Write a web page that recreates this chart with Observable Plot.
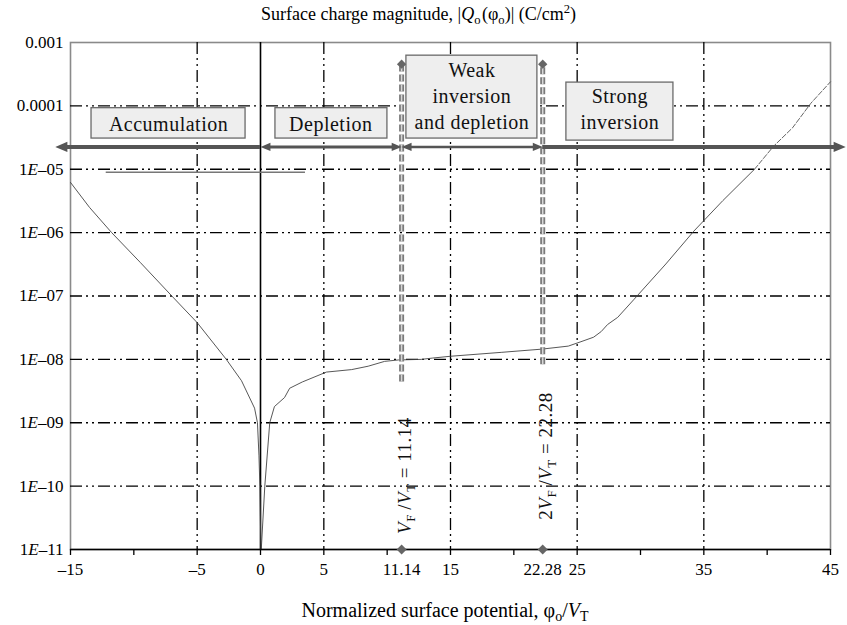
<!DOCTYPE html>
<html>
<head>
<meta charset="utf-8">
<script src="https://cdn.jsdelivr.net/npm/d3@7"></script>
<script src="https://cdn.jsdelivr.net/npm/@observablehq/plot@0.6"></script>
<style>
  body { margin: 0; background: #fff; font-family: 'Liberation Serif', 'Times New Roman', serif; color: #000; }
  #title { width: 847px; height: 30px; line-height: 28px; font-size: 18px; text-align: center; padding-right: 10px; box-sizing: border-box; }
  #xlabel { width: 847px; height: 30px; line-height: 30px; font-size: 20px; text-align: center; padding-left: 43px; box-sizing: border-box; }
  sub, sup { font-size: 70%; line-height: 0; vertical-align: 0; position: relative; }
  sub { top: 0.3em; }
  sup { top: -0.55em; }
  svg text { font-family: 'Liberation Serif', 'Times New Roman', serif; }
  svg g[aria-label="text"] text { letter-spacing: 0.5px; }
</style>
</head>
<body>
<div id="title">Surface charge magnitude, |<i>Q</i><sub>o</sub>&#8202;(φ<sub>o</sub>)| (C/cm<sup>2</sup>)</div>
<div id="chart"></div>
<div id="xlabel">Normalized surface potential, φ<sub>o</sub>/<i>V</i><sub>T</sub></div>
<script>
// ---- data ----
const phiAccumulation = [-15, -13.5, -11.75, -9.5, -7, -5, -2.7, -1.5, -0.47, -0.24, -0.12, -0.05, 0.03];
const qAccumulation   = [6.2e-6, 2.5e-6, 1.0e-6, 3.4e-7, 1.0e-7, 3.8e-8, 1.0e-8, 4.6e-9, 1.7e-9, 1.0e-9, 3.0e-10, 1.0e-10, 1.0e-11];

const phiInversion = [0.06, 0.34, 0.73, 1.1, 1.9, 2.3, 3.3, 5.2, 7.2, 8.5, 9.8, 10.9, 12.7, 13.6, 15, 19, 22.2, 24.3, 25.3, 26.3, 26.9, 27.4, 28.2, 29.5, 32, 34.2, 36.5, 39];
const qInversion   = [1e-11, 1e-10, 1e-9, 1.8e-9, 2.5e-9, 3.5e-9, 4.4e-9, 6.3e-9, 6.9e-9, 7.8e-9, 9.3e-9, 9.8e-9, 1.0e-8, 1.05e-8, 1.12e-8, 1.29e-8, 1.45e-8, 1.62e-8, 1.9e-8, 2.24e-8, 2.75e-8, 3.55e-8, 4.6e-8, 8.9e-8, 3.2e-7, 1.05e-6, 3.2e-6, 1.0e-5];

const phiStrongTail = [39, 40.5, 42, 43.45, 45];
const qStrongTail   = [1.0e-5, 2.3e-5, 4.5e-5, 1.1e-4, 2.4e-4];

const yTicks = [1e-11, 1e-10, 1e-9, 1e-8, 1e-7, 1e-6, 1e-5, 1e-4, 1e-3];
const yGrid = [1e-10, 1e-9, 1e-8, 1e-7, 1e-6, 1e-5, 1e-4];
const xTickLabels = [-15, -5, 0, 5, 11.14, 15, 22.28, 25, 35, 45];
const xMinorTicks = [-15, -10, -5, 0, 5, 10, 15, 20, 25, 30, 35, 40, 45];
const xGrid = [-5, 5, 15, 25, 35];

const vfLines = [11.14, 22.28];
const vfLabels = ["VF/VT = 11.14", "2VF/VT = 22.28"];

const regionNames = ["Accumulation", "Depletion", "Weak\ninversion\nand depletion", "Strong\ninversion"];
const arrowLeft  = [-16.2, 0, 11.14, 22.28];
const arrowRight = [0, 11.14, 22.28, 46.2];
const headLeft   = [true, true, true, false];
const headRight  = [false, true, true, true];

// ---- helpers ----
const serif = "'Liberation Serif', 'Times New Roman', serif";
const fmtX = d => d < 0 ? "–" + (-d) : String(d);
const fmtY = d => d === 1e-3 ? "0.001" : d === 1e-4 ? "0.0001" : "1E–" + String(Math.round(-Math.log10(d))).padStart(2, "0");

// arrowhead with tip at origin, pointing right
const arrowHead = {
  draw(ctx, size) {
    const s = Math.sqrt(size);
    ctx.moveTo(0, 0);
    ctx.lineTo(-s, -s * 0.42);
    ctx.lineTo(-s, s * 0.42);
    ctx.closePath();
  }
};

const arrowY = 2.25e-5;
const arrowColor = "#555";
const arrowWidths = [4, 3, 2.5, 4];

const arrowMarks = [];
regionNames.forEach((name, i) => {
  arrowMarks.push(Plot.ruleY([arrowY], {
    x1: arrowLeft[i], x2: arrowRight[i], stroke: arrowColor, strokeWidth: arrowWidths[i],
    insetLeft: headLeft[i] ? 8 : 0, insetRight: headRight[i] ? 8 : 0
  }));
  const r = arrowWidths[i] >= 4 ? 6.8 : 5.6;
  if (headLeft[i]) arrowMarks.push(Plot.dot([arrowLeft[i]], {x: d => d, y: () => arrowY, symbol: arrowHead, r, rotate: 180, fill: arrowColor, stroke: "none"}));
  if (headRight[i]) arrowMarks.push(Plot.dot([arrowRight[i]], {x: d => d, y: () => arrowY, symbol: arrowHead, r, rotate: 0, fill: arrowColor, stroke: "none"}));
});

// label boxes (data coordinates)
const boxes = [
  {x1: -13.34, x2: -1.18, y1: 3.05e-5, y2: 9.2e-5, cx: -7.26, cy: 5.45e-5},
  {x1: 1.18, x2: 10.02, y1: 3.05e-5, y2: 9.2e-5, cx: 5.55, cy: 5.45e-5},
  {x1: 11.52, x2: 21.86, y1: 3.05e-5, y2: 6.2e-4, cx: 16.69, cy: 1.5e-4},
  {x1: 24.15, x2: 32.6, y1: 2.83e-5, y2: 2.33e-4, cx: 28.37, cy: 9.2e-5}
].map((b, i) => ({...b, name: regionNames[i]}));

const gridDash = "12,4,2,4,2,4";

const plot = Plot.plot({
  width: 847,
  height: 565,
  marginLeft: 70,
  marginRight: 17,
  marginTop: 12,
  marginBottom: 46,
  style: {fontFamily: serif, fontSize: "17px", color: "#000", background: "#fff", overflow: "visible"},
  x: {domain: [-15, 45]},
  y: {type: "log", domain: [1e-11, 1e-3]},
  marks: [
    Plot.frame({stroke: "#8a8a8a", strokeWidth: 1.6}),
    Plot.ruleY(yGrid, {stroke: "#000", strokeWidth: 1.3, strokeDasharray: gridDash}),
    Plot.ruleX(xGrid, {stroke: "#000", strokeWidth: 1.3, strokeDasharray: gridDash}),
    Plot.ruleX([0], {stroke: "#000", strokeWidth: 1.6}),
    // stray horizontal segment in the original figure
    Plot.ruleY([8.97e-6], {x1: -12.18, x2: 3.55, stroke: "#777", strokeWidth: 1.3}),
    // curves
    Plot.line(qAccumulation, {x: phiAccumulation, y: qAccumulation, stroke: "#444", strokeWidth: 0.9}),
    Plot.line(qInversion, {x: phiInversion, y: qInversion, stroke: "#444", strokeWidth: 0.9}),
    Plot.line(qStrongTail, {x: phiStrongTail, y: qStrongTail, stroke: "#555", strokeWidth: 0.9, strokeDasharray: "5,2"}),
    // V_F and 2V_F dashed markers
    Plot.ruleX(vfLines, {y1: [4.4e-9, 8.2e-9], y2: 4.55e-4, stroke: "#7a7a7a", strokeWidth: 5, strokeDasharray: "7,3"}),
    Plot.ruleX(vfLines, {y1: [4.4e-9, 8.2e-9], y2: 4.55e-4, stroke: "#d8d8d8", strokeWidth: 1.5, strokeDasharray: "7,3"}),
    ...arrowMarks,
    // region boxes
    Plot.rect(boxes, {x1: "x1", x2: "x2", y1: "y1", y2: "y2", fill: "#eeeeee", stroke: "#6a6a6a", strokeWidth: 1.3}),
    Plot.text(boxes, {x: "cx", y: "cy", text: "name", fontSize: 20, fontFamily: serif, lineHeight: 1.3, fill: "#111"}),
    // axes
    Plot.ruleY([1e-11], {stroke: "#000", strokeWidth: 1.6}),
    Plot.axisX({ticks: xMinorTicks, tickSize: 6, tickFormat: () => "", label: null, strokeWidth: 1.3}),
    Plot.axisX({ticks: xTickLabels, tickSize: 0, tickPadding: 13, tickFormat: fmtX, label: null, fontSize: 17, fontFamily: serif}),
    Plot.axisY({ticks: yTicks, tickSize: 0, tickPadding: 7, tickFormat: fmtY, label: null, fontSize: 17, fontFamily: serif}),
    // diamonds
    Plot.dot(vfLines, {x: d => d, y: () => 1e-11, symbol: "diamond2", r: 4.5, fill: "#666", stroke: "none"}),
    Plot.dot(vfLines, {x: d => d, y: () => 4.55e-4, symbol: "diamond2", r: 4.2, fill: "#666", stroke: "none"}),
    // rotated annotations
    Plot.text(vfLines, {x: d => d, y: [1.47e-10, 2.99e-10], text: vfLabels, rotate: -90, dx: 3, fontSize: 19, fontFamily: serif, fill: "#111"})
  ]
});

document.getElementById("chart").appendChild(plot);

// rich-text touches: italic E in y tick labels, italic V and subscripts in annotations
plot.querySelectorAll("text").forEach(t => {
  const s = t.textContent;
  let m = s.match(/^1E–(\d+)$/);
  if (m) {
    t.innerHTML = `1<tspan font-style="italic">E</tspan>–${m[1]}`;
    return;
  }
  m = s.match(/^(2?)VF\/VT = ([\d.]+)$/);
  if (m) {
    t.innerHTML = `${m[1]}<tspan font-style="italic">V</tspan><tspan font-size="13" dy="4">F</tspan><tspan dy="-4">&#8201;/</tspan><tspan font-style="italic">V</tspan><tspan font-size="13" dy="4">T</tspan><tspan dy="-4"> = ${m[2]}</tspan>`;
  }
});
</script>
</body>
</html>
